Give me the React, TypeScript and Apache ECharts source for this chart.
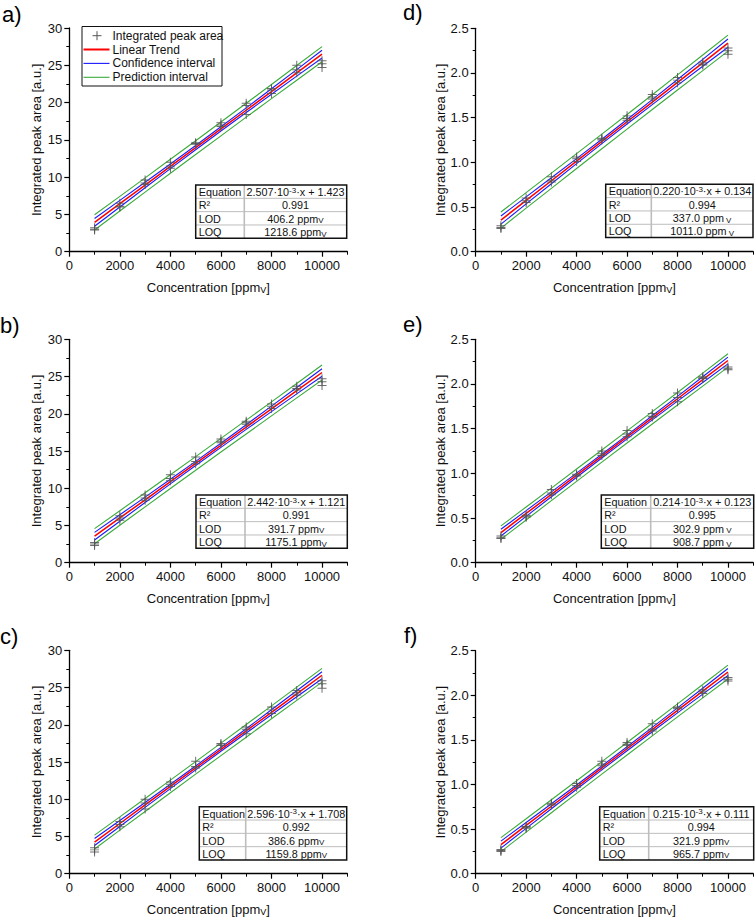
import React, { useEffect, useRef } from 'react';
import * as echarts from 'echarts';

const FONT = '"Liberation Sans", Arial, sans-serif';

// ---------- shared data ----------
const CONC = [1000, 2000, 3000, 4000, 5000, 6000, 7000, 8000, 9000, 10000];
const X_MAJOR_TICKS = [0, 2000, 4000, 6000, 8000, 10000];
const X_MINOR_TICKS = [1000, 3000, 5000, 7000, 9000, 11000];
const TABLE_ROW_NAMES = ['Equation', 'R²', 'LOD', 'LOQ'];
const LEGEND_NAMES = ['Integrated peak area', 'Linear Trend', 'Confidence interval', 'Prediction interval'];
const X_TITLE = 'Concentration [ppm{sub|V}]';
const Y_TITLE = 'Integrated peak area [a.u.]';

// ---------- a) ----------
const A_POINTS = [[3.2, 2.9, 3.0], [6.5, 6.1, 6.0], [9.6, 9.2, 9.0], [12.0, 11.5, 11.2], [14.6, 14.5, 14.4], [17.3, 17.0, 16.8], [19.9, 19.6, 18.4], [21.9, 21.7, 21.2], [25.0, 24.4, 24.0], [25.6, 25.2, 24.7]];
const A_TREND = [3.93, 6.44, 8.94, 11.45, 13.96, 16.47, 18.97, 21.48, 23.99, 26.49];
const A_CI_UP = [4.45, 6.88, 9.31, 11.77, 14.24, 16.75, 19.29, 21.85, 24.42, 27.01];
const A_CI_LO = [3.41, 6.00, 8.58, 11.14, 13.68, 16.18, 18.66, 21.11, 23.55, 25.98];
const A_PI_UP = [4.95, 7.42, 9.90, 12.39, 14.88, 17.39, 19.91, 22.43, 24.97, 27.51];
const A_PI_LO = [2.91, 5.45, 7.99, 10.52, 13.03, 15.54, 18.04, 20.53, 23.00, 25.47];
const A_TABLE = ['2.507·10{sup|-3}·x + 1.423', '0.991', '406.2 ppm{sub|V}', '1218.6 ppm{sub|V}'];

// ---------- b) ----------
const B_POINTS = [[2.7, 2.5, 2.3], [6.3, 6.0, 5.7], [9.1, 8.7, 8.4], [11.8, 11.3, 11.0], [14.2, 13.6, 13.3], [16.6, 16.3, 16.1], [19.0, 18.8, 18.6], [21.3, 21.0, 20.7], [23.7, 23.4, 23.2], [24.7, 24.3, 23.8]];
const B_TREND = [3.56, 6.01, 8.45, 10.89, 13.33, 15.77, 18.22, 20.66, 23.10, 25.54];
const B_CI_UP = [4.07, 6.44, 8.81, 11.20, 13.61, 16.05, 18.53, 21.02, 23.53, 26.05];
const B_CI_LO = [3.05, 5.57, 8.08, 10.58, 13.05, 15.49, 17.90, 20.29, 22.67, 25.03];
const B_PI_UP = [4.57, 6.98, 9.39, 11.81, 14.25, 16.69, 19.14, 21.60, 24.07, 26.55];
const B_PI_LO = [2.55, 5.03, 7.50, 9.97, 12.42, 14.86, 17.29, 19.71, 22.13, 24.53];
const B_TABLE = ['2.442·10{sup|-3}·x + 1.121', '0.991', '391.7 ppm{sub|V}', '1175.1 ppm{sub|V}'];

// ---------- c) ----------
const C_POINTS = [[3.5, 3.2, 2.9], [7.0, 6.6, 6.3], [10.0, 9.5, 8.7], [12.3, 12.0, 11.7], [15.1, 14.4, 14.2], [17.5, 17.3, 17.2], [19.7, 19.4, 18.8], [22.4, 22.0, 21.5], [24.6, 24.3, 24.0], [25.9, 25.5, 24.9]];
const C_TREND = [4.25, 6.74, 9.23, 11.72, 14.21, 16.70, 19.18, 21.67, 24.16, 26.65];
const C_CI_UP = [4.72, 7.14, 9.57, 12.01, 14.47, 16.96, 19.47, 22.01, 24.56, 27.12];
const C_CI_LO = [3.78, 6.34, 8.90, 11.43, 13.95, 16.44, 18.89, 21.34, 23.76, 26.18];
const C_PI_UP = [5.18, 7.63, 10.10, 12.57, 15.05, 17.54, 20.03, 22.54, 25.05, 27.58];
const C_PI_LO = [3.32, 5.85, 8.36, 10.87, 13.37, 15.86, 18.33, 20.80, 23.27, 25.72];
const C_TABLE = ['2.596·10{sup|-3}·x + 1.708', '0.992', '386.6 ppm{sub|V}', '1159.8 ppm{sub|V}'];

// ---------- d) ----------
const D_POINTS = [[0.29, 0.27, 0.26], [0.60, 0.57, 0.55], [0.84, 0.80, 0.78], [1.06, 1.04, 1.01], [1.27, 1.26, 1.25], [1.52, 1.49, 1.47], [1.76, 1.73, 1.71], [1.95, 1.92, 1.89], [2.12, 2.10, 2.09], [2.28, 2.25, 2.21]];
const D_TREND = [0.354, 0.574, 0.794, 1.014, 1.234, 1.454, 1.674, 1.894, 2.114, 2.334];
const D_CI_UP = [0.400, 0.613, 0.827, 1.042, 1.259, 1.479, 1.702, 1.927, 2.153, 2.380];
const D_CI_LO = [0.308, 0.535, 0.761, 0.986, 1.209, 1.429, 1.646, 1.861, 2.075, 2.288];
const D_PI_UP = [0.444, 0.661, 0.879, 1.097, 1.316, 1.536, 1.757, 1.979, 2.201, 2.424];
const D_PI_LO = [0.264, 0.487, 0.709, 0.931, 1.152, 1.372, 1.591, 1.809, 2.027, 2.244];
const D_TABLE = ['0.220·10{sup|-3}·x + 0.134', '0.994', '337.0 ppm{sub| V}', '1011.0 ppm{sub| V}'];

// ---------- e) ----------
const E_POINTS = [[0.30, 0.28, 0.27], [0.53, 0.52, 0.51], [0.82, 0.78, 0.76], [0.99, 0.98, 0.97], [1.25, 1.22, 1.20], [1.48, 1.44, 1.41], [1.67, 1.64, 1.63], [1.90, 1.85, 1.80], [2.08, 2.07, 2.06], [2.19, 2.17, 2.16]];
const E_TREND = [0.337, 0.551, 0.765, 0.979, 1.193, 1.407, 1.621, 1.835, 2.049, 2.263];
const E_CI_UP = [0.375, 0.583, 0.792, 1.002, 1.214, 1.428, 1.644, 1.862, 2.081, 2.301];
const E_CI_LO = [0.299, 0.519, 0.738, 0.956, 1.172, 1.386, 1.598, 1.808, 2.017, 2.225];
const E_PI_UP = [0.412, 0.624, 0.835, 1.048, 1.261, 1.475, 1.690, 1.905, 2.122, 2.338];
const E_PI_LO = [0.262, 0.478, 0.695, 0.910, 1.125, 1.339, 1.552, 1.765, 1.976, 2.188];
const E_TABLE = ['0.214·10{sup|-3}·x + 0.123', '0.995', '302.9 ppm{sub| V}', '908.7 ppm{sub| V}'];

// ---------- f) ----------
const F_POINTS = [[0.27, 0.26, 0.25], [0.53, 0.52, 0.51], [0.79, 0.78, 0.77], [1.01, 0.99, 0.97], [1.26, 1.23, 1.21], [1.47, 1.45, 1.44], [1.68, 1.62, 1.60], [1.87, 1.86, 1.85], [2.06, 2.04, 2.02], [2.20, 2.18, 2.16]];
const F_TREND = [0.326, 0.541, 0.756, 0.971, 1.186, 1.401, 1.616, 1.831, 2.046, 2.261];
const F_CI_UP = [0.365, 0.574, 0.784, 0.995, 1.208, 1.423, 1.640, 1.859, 2.079, 2.300];
const F_CI_LO = [0.287, 0.508, 0.728, 0.947, 1.164, 1.379, 1.592, 1.803, 2.013, 2.222];
const F_PI_UP = [0.404, 0.616, 0.829, 1.042, 1.256, 1.471, 1.687, 1.904, 2.121, 2.339];
const F_PI_LO = [0.248, 0.466, 0.683, 0.900, 1.116, 1.331, 1.545, 1.758, 1.971, 2.183];
const F_TABLE = ['0.215·10{sup|-3}·x + 0.111', '0.994', '321.9 ppm{sub|V}', '965.7 ppm{sub|V}'];

const PANEL_DATA = [
  { label: 'a)', points: A_POINTS, trend: A_TREND, ciUp: A_CI_UP, ciLo: A_CI_LO, piUp: A_PI_UP, piLo: A_PI_LO, table: A_TABLE, yMax: 30, yStep: 5, dec: 0 },
  { label: 'b)', points: B_POINTS, trend: B_TREND, ciUp: B_CI_UP, ciLo: B_CI_LO, piUp: B_PI_UP, piLo: B_PI_LO, table: B_TABLE, yMax: 30, yStep: 5, dec: 0 },
  { label: 'c)', points: C_POINTS, trend: C_TREND, ciUp: C_CI_UP, ciLo: C_CI_LO, piUp: C_PI_UP, piLo: C_PI_LO, table: C_TABLE, yMax: 30, yStep: 5, dec: 0 },
  { label: 'd)', points: D_POINTS, trend: D_TREND, ciUp: D_CI_UP, ciLo: D_CI_LO, piUp: D_PI_UP, piLo: D_PI_LO, table: D_TABLE, yMax: 2.5, yStep: 0.5, dec: 1 },
  { label: 'e)', points: E_POINTS, trend: E_TREND, ciUp: E_CI_UP, ciLo: E_CI_LO, piUp: E_PI_UP, piLo: E_PI_LO, table: E_TABLE, yMax: 2.5, yStep: 0.5, dec: 1 },
  { label: 'f)', points: F_POINTS, trend: F_TREND, ciUp: F_CI_UP, ciLo: F_CI_LO, piUp: F_PI_UP, piLo: F_PI_LO, table: F_TABLE, yMax: 2.5, yStep: 0.5, dec: 1 },
];

// ---------- layout (pixels) ----------
const LAYOUT = [
  { grid: [69.3, 28.0, 278, 223.7], lab: [2, 14], tab: [195.7, 185.0, 151.0, 48.6] },
  { grid: [69.3, 339.3, 278, 223.4], lab: [0, 325], tab: [196.0, 495.0, 151.3, 49.0] },
  { grid: [69.3, 650.3, 278, 223.4], lab: [0, 636], tab: [199.3, 806.7, 147.4, 46.4] },
  { grid: [475.7, 28.3, 277.5, 223.4], lab: [403, 12], tab: [605.7, 184.3, 147.3, 45.6] },
  { grid: [475.7, 339.3, 277.5, 223.4], lab: [403, 324], tab: [601.3, 495.0, 152.4, 49.4] },
  { grid: [475.7, 650.7, 277.5, 223.0], lab: [404, 635], tab: [599.7, 806.7, 154.0, 49.0] },
];

const RED = '#ff0000';
const BLUE = '#1a1aff';
const GREEN = '#3aaa3a';
const MARK = '#555555';
const PLUS = 'path://M4.45,0H5.55V10H4.45Z M0,4.45H10V5.55H0Z';

const subRich = {
  sub: { fontSize: 9, fontFamily: FONT, color: '#000', fill: '#000', verticalAlign: 'bottom', padding: [5, 0, 0, 0] },
  sup: { fontSize: 8, fontFamily: FONT, color: '#000', fill: '#000', verticalAlign: 'top', padding: [0, 0, 5, 0] },
};

function buildOption() {
  const grid: any[] = [];
  const xAxis: any[] = [];
  const yAxis: any[] = [];
  const series: any[] = [];
  const graphic: any[] = [];

  PANEL_DATA.forEach((p, i) => {
    const L = LAYOUT[i];
    grid.push({ left: L.grid[0], top: L.grid[1], width: L.grid[2], height: L.grid[3], containLabel: false });
    // major x axis
    xAxis.push({
      type: 'value', gridIndex: i, min: 0, max: 11000,
      axisLine: { show: true, onZero: false, lineStyle: { color: '#000', width: 1.3 } },
      axisTick: { show: true, inside: false, length: 5, customValues: X_MAJOR_TICKS, lineStyle: { color: '#000', width: 1.2 } },
      axisLabel: { show: true, customValues: X_MAJOR_TICKS, color: '#111', fontSize: 13, fontFamily: FONT, margin: 7.5, formatter: (v: number) => String(v) },
      splitLine: { show: false },
      name: X_TITLE, nameLocation: 'middle', nameGap: 29,
      nameTextStyle: { fontSize: 13, color: '#111', fontFamily: FONT, rich: subRich },
    });
    // minor x ticks
    xAxis.push({
      type: 'value', gridIndex: i, min: 0, max: 11000, position: 'bottom',
      axisLine: { show: false },
      axisTick: { show: true, inside: false, length: 3, customValues: X_MINOR_TICKS, lineStyle: { color: '#000', width: 1 } },
      axisLabel: { show: false },
      splitLine: { show: false },
    });
    yAxis.push({
      type: 'value', gridIndex: i, min: 0, max: p.yMax, interval: p.yStep,
      axisLine: { show: true, onZero: false, lineStyle: { color: '#000', width: 1.3 } },
      axisTick: { show: true, inside: false, length: 5, lineStyle: { color: '#000', width: 1.2 } },
      minorTick: { show: true, splitNumber: 2, length: 3, lineStyle: { color: '#000', width: 1 } },
      splitLine: { show: false },
      axisLabel: { color: '#111', fontSize: 13, fontFamily: FONT, margin: 7, formatter: (v: number) => v.toFixed(p.dec) },
      name: Y_TITLE, nameLocation: 'middle', nameGap: 26,
      nameTextStyle: { fontSize: 13, color: '#111', fontFamily: FONT },
    });
    const xi = i * 2;
    const line = (arr: number[], color: string, width: number, name: string) => ({
      type: 'line', name, xAxisIndex: xi, yAxisIndex: i, data: CONC.map((x, k) => [x, arr[k]]),
      showSymbol: false, symbol: 'none', silent: true, lineStyle: { color, width }, z: 2,
    });
    series.push(line(p.piUp, GREEN, 1.1, 'Prediction interval'));
    series.push(line(p.piLo, GREEN, 1.1, 'Prediction interval'));
    series.push(line(p.ciUp, BLUE, 1.1, 'Confidence interval'));
    series.push(line(p.ciLo, BLUE, 1.1, 'Confidence interval'));
    series.push(line(p.trend, RED, 1.5, 'Linear Trend'));
    const pts: number[][] = [];
    p.points.forEach((reps, k) => reps.forEach((v) => pts.push([CONC[k], v])));
    series.push({
      type: 'scatter', name: 'Integrated peak area', xAxisIndex: xi, yAxisIndex: i, data: pts,
      symbol: PLUS, symbolSize: 9, silent: true, z: 3,
      itemStyle: { color: MARK, opacity: 0.85 },
    });

    // panel label
    graphic.push({
      type: 'text', x: L.lab[0], y: L.lab[1], z: 10,
      style: { text: p.label, fontSize: 22, fontFamily: FONT, fill: '#000', align: 'left', verticalAlign: 'middle', textAlign: 'left', textVerticalAlign: 'middle' },
    });

    // table
    const [tx, ty, tw, dv] = L.tab;
    const th = 53.3;
    const rh = th / 4;
    graphic.push({ type: 'rect', z: 10, shape: { x: tx, y: ty, width: tw, height: th }, style: { fill: '#fff', stroke: 'none' } });
    for (let r = 1; r < 4; r++) {
      graphic.push({ type: 'line', z: 11, shape: { x1: tx, y1: ty + r * rh, x2: tx + tw, y2: ty + r * rh }, style: { stroke: '#bdbdbd', lineWidth: 1 } });
    }
    graphic.push({ type: 'line', z: 11, shape: { x1: tx + dv, y1: ty, x2: tx + dv, y2: ty + th }, style: { stroke: '#bdbdbd', lineWidth: 1.6 } });
    graphic.push({ type: 'rect', z: 12, shape: { x: tx, y: ty, width: tw, height: th }, style: { fill: 'none', stroke: '#111', lineWidth: 1.5 } });
    TABLE_ROW_NAMES.forEach((nm, r) => {
      graphic.push({
        type: 'text', z: 13, x: tx + 3, y: ty + r * rh + rh / 2 + 0.5,
        style: { text: nm, fontSize: 10.8, fontFamily: FONT, fill: '#111', align: 'left', verticalAlign: 'middle', textAlign: 'left', textVerticalAlign: 'middle' },
      });
      graphic.push({
        type: 'text', z: 13, x: tx + dv + (tw - dv) / 2, y: ty + r * rh + rh / 2 + 0.5,
        style: {
          text: p.table[r], fontSize: 10.8, fontFamily: FONT, fill: '#111', align: 'center', verticalAlign: 'middle', textAlign: 'center', textVerticalAlign: 'middle',
          rich: {
            sub: { fontSize: 8, fontFamily: FONT, fill: '#111', verticalAlign: 'bottom', padding: [4, 0, 0, 0] },
            sup: { fontSize: 8, fontFamily: FONT, fill: '#111', verticalAlign: 'top', padding: [0, 0, 4, 0] },
          },
        },
      });
    });
  });

  // legend (panel a)
  const lx = 82, ly = 26.5, lw = 140, lh = 59.5;
  graphic.push({ type: 'rect', z: 10, shape: { x: lx, y: ly, width: lw, height: lh }, style: { fill: '#fff', stroke: '#111', lineWidth: 1 } });
  const rows = [35.7, 49.5, 63.4, 77.3];
  graphic.push({ type: 'line', z: 11, shape: { x1: 92.5, y1: rows[0], x2: 101.5, y2: rows[0] }, style: { stroke: MARK, lineWidth: 1 } });
  graphic.push({ type: 'line', z: 11, shape: { x1: 97, y1: rows[0] - 4.5, x2: 97, y2: rows[0] + 4.5 }, style: { stroke: MARK, lineWidth: 1 } });
  graphic.push({ type: 'line', z: 11, shape: { x1: 83.5, y1: rows[1], x2: 109.5, y2: rows[1] }, style: { stroke: RED, lineWidth: 2 } });
  graphic.push({ type: 'line', z: 11, shape: { x1: 83.5, y1: rows[2], x2: 109.5, y2: rows[2] }, style: { stroke: BLUE, lineWidth: 1.1 } });
  graphic.push({ type: 'line', z: 11, shape: { x1: 83.5, y1: rows[3], x2: 109.5, y2: rows[3] }, style: { stroke: GREEN, lineWidth: 1.1 } });
  LEGEND_NAMES.forEach((nm, r) => {
    graphic.push({
      type: 'text', z: 11, x: 112.5, y: rows[r],
      style: { text: nm, fontSize: 12, fontFamily: FONT, fill: '#111', align: 'left', verticalAlign: 'middle', textAlign: 'left', textVerticalAlign: 'middle' },
    });
  });

  return { animation: false, backgroundColor: '#fff', grid, xAxis, yAxis, series, graphic };
}

export default function App() {
  const ref = useRef<HTMLDivElement>(null);
  useEffect(() => {
    if (!ref.current) return;
    const chart = echarts.init(ref.current, undefined, { renderer: 'svg' });
    chart.setOption(buildOption() as any);
    return () => chart.dispose();
  }, []);
  return <div ref={ref} style={{ position: 'absolute', left: 0, top: 0, width: 756, height: 920, background: '#fff' }} />;
}
